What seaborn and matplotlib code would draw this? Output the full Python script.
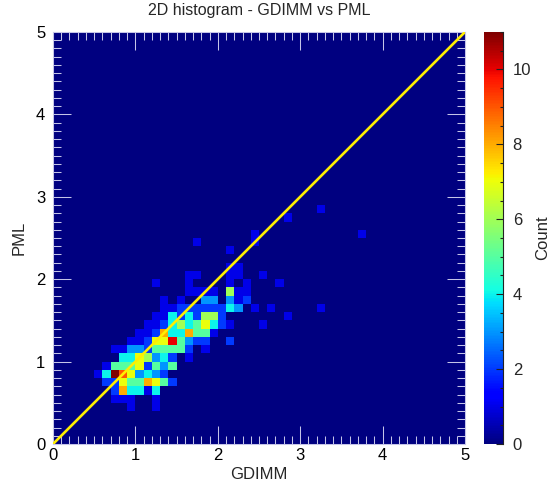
import numpy as np
import pandas as pd
import seaborn as sns
import matplotlib
matplotlib.use("Agg")
import matplotlib.pyplot as plt
from matplotlib.ticker import MultipleLocator, FixedLocator

sns.set_style("white")
plt.rcParams['font.family'] = ['Liberation Sans', 'DejaVu Sans']

# Counts per PML bin (0.1 wide): (GDIMM bin index, count)
pml_04 = [(9, 1), (12, 1)]
pml_05 = [(7, 1), (8, 1), (9, 1), (12, 1)]
pml_06 = [(7, 2), (8, 8), (9, 4), (10, 4), (11, 1), (12, 4)]
pml_07 = [(6, 2), (7, 2), (8, 7), (9, 5), (10, 5), (11, 8), (12, 7), (13, 5), (14, 2)]
pml_08 = [(5, 1), (6, 4), (7, 11), (8, 9), (9, 7), (10, 3), (11, 4), (12, 3), (13, 2)]
pml_09 = [(6, 1), (7, 5), (8, 5), (9, 5), (10, 7), (11, 2), (12, 5), (13, 3), (14, 5)]
pml_10 = [(8, 4), (9, 4), (10, 7), (11, 6), (12, 3), (13, 4), (14, 2), (16, 1)]
pml_11 = [(7, 1), (8, 1), (9, 3), (10, 3), (11, 2), (12, 5), (13, 5), (14, 5), (15, 5), (16, 2), (18, 1)]
pml_12 = [(9, 1), (10, 1), (11, 2), (12, 7), (13, 7), (14, 10), (15, 5), (16, 3), (17, 2), (18, 2), (21, 2)]
pml_13 = [(10, 1), (11, 1), (12, 2), (13, 8), (14, 4), (15, 4), (16, 8), (17, 5), (18, 5), (19, 1)]
pml_14 = [(11, 1), (12, 1), (13, 2), (14, 4), (15, 6), (16, 4), (17, 5), (18, 7), (19, 4), (20, 2), (21, 1), (25, 1)]
pml_15 = [(12, 1), (13, 1), (14, 4), (15, 2), (16, 4), (17, 2), (18, 6), (19, 6), (20, 2), (28, 1)]
pml_16 = [(13, 1), (14, 1), (15, 2), (16, 2), (17, 2), (18, 2), (19, 2), (20, 2), (21, 4), (22, 3), (24, 1), (26, 1), (32, 1)]
pml_17 = [(13, 1), (15, 1), (18, 3), (19, 3), (21, 3), (22, 1), (23, 2)]
pml_18 = [(16, 1), (17, 1), (18, 1), (19, 1), (21, 6), (22, 1), (23, 1)]
pml_19 = [(12, 1), (16, 1), (21, 1), (23, 1), (27, 1)]
pml_20 = [(16, 1), (17, 1), (21, 1), (22, 1), (25, 1)]
pml_21 = [(21, 1), (22, 1)]
pml_23 = [(21, 1)]
pml_24 = [(17, 1), (24, 1)]
pml_25 = [(24, 1), (37, 1)]
pml_27 = [(28, 1)]
pml_28 = [(32, 1)]

rows = {4: pml_04, 5: pml_05, 6: pml_06, 7: pml_07, 8: pml_08, 9: pml_09, 10: pml_10,
        11: pml_11, 12: pml_12, 13: pml_13, 14: pml_14, 15: pml_15, 16: pml_16,
        17: pml_17, 18: pml_18, 19: pml_19, 20: pml_20, 21: pml_21, 23: pml_23,
        24: pml_24, 25: pml_25, 27: pml_27, 28: pml_28}

N_BINS = 50
BINS_PER_UNIT = 10
grid = np.zeros((N_BINS, N_BINS))
for r, cells in rows.items():
    for c, n in cells:
        grid[r, c] = n
df = pd.DataFrame(grid)

W, H = 547, 483
fig = plt.figure(figsize=(W / 100, H / 100), dpi=100)
ax = fig.add_axes([53 / W, 1 - 444 / H, 412 / W, 412 / H])
cax = fig.add_axes([484 / W, 1 - 444 / H, 19 / W, 412 / H])

sns.heatmap(df, ax=ax, cbar_ax=cax, cmap="jet", vmin=0, vmax=11, square=False,
            xticklabels=False, yticklabels=False, linewidths=0, rasterized=True)
ax.set_xlim(0, N_BINS)
ax.set_ylim(0, N_BINS)
ax.set_axisbelow(False)
cax.set_axisbelow(False)

# 1:1 line
ax.plot([0, N_BINS], [0, N_BINS], color="#ffee00", lw=1.9, zorder=5, clip_on=True)

tick_col = "#c4c4e8"
major = np.arange(0, 6) * BINS_PER_UNIT
for axis in (ax.xaxis, ax.yaxis):
    axis.set_major_locator(FixedLocator(major))
    axis.set_minor_locator(MultipleLocator(1))
ax.set_xticklabels([str(v) for v in range(6)])
ax.set_yticklabels([str(v) for v in range(6)], rotation=0)
ax.tick_params(which="major", direction="in", length=13, width=0.75, color=tick_col,
               top=True, right=True, bottom=True, left=True, labelsize=12, pad=5.5,
               labelcolor="black")
ax.tick_params(axis="x", which="major", pad=3)
ax.tick_params(which="minor", direction="in", length=5.8, width=0.75, color=tick_col,
               top=True, right=True, bottom=True, left=True)
for s in ax.spines.values():
    s.set_visible(True)
    s.set_color(tick_col)
    s.set_linewidth(0.75)

ax.set_xlabel("GDIMM", fontsize=12, labelpad=2.5)
ax.set_ylabel("PML", fontsize=12, labelpad=7)
ax.set_title("2D histogram - GDIMM vs PML", fontsize=11.5, pad=12)

cax.yaxis.set_major_locator(MultipleLocator(2))
cax.yaxis.set_minor_locator(MultipleLocator(0.5))
cax.tick_params(which="major", direction="in", length=5, width=0.8, color="#222222",
                right=True, labelsize=12, pad=7)
cax.tick_params(which="minor", direction="in", length=2.5, width=0.8, color="#222222", right=True)
for s in cax.spines.values():
    s.set_visible(False)
cax.spines["right"].set_visible(True)
cax.spines["right"].set_color("#222222")
cax.spines["right"].set_linewidth(0.8)
cax.set_ylabel("Count", fontsize=12, rotation=90, labelpad=2.5)

fig.savefig("out.png", dpi=100)
